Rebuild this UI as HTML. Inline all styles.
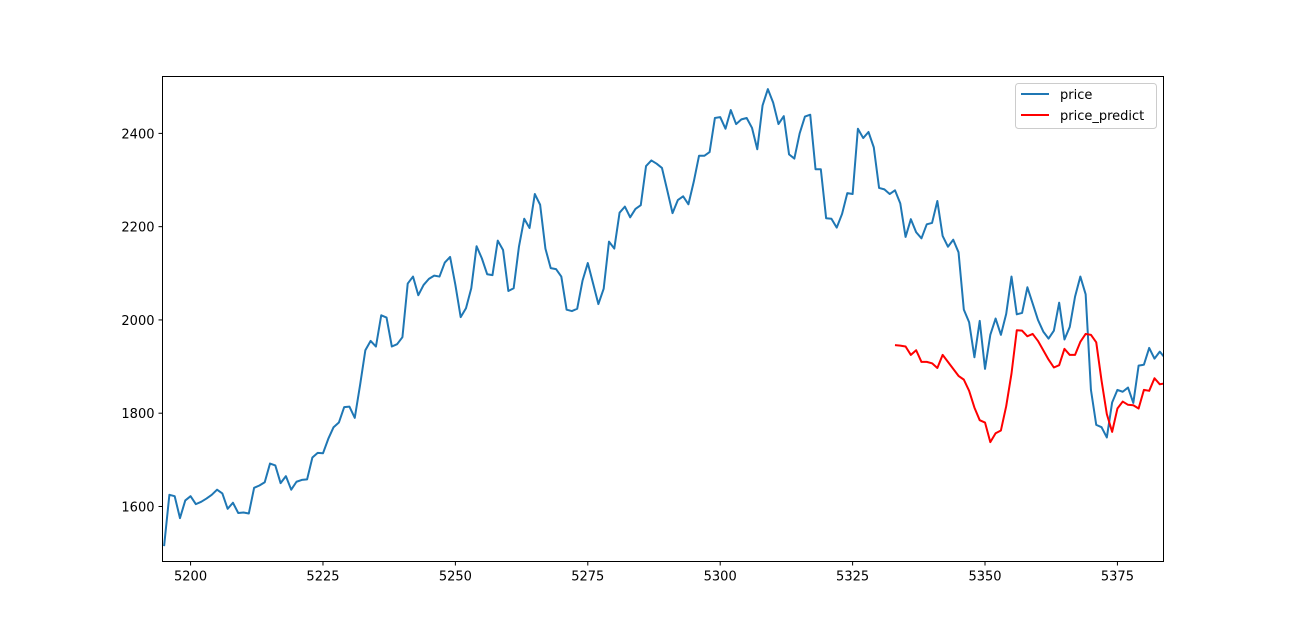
<!DOCTYPE html>
<html><head><meta charset="utf-8"><style>
body{margin:0;background:#fff;}
svg{display:block;font-family:"DejaVu Sans","Liberation Sans",sans-serif;}
</style></head><body>
<svg id="chart" width="1292" height="630" xmlns="http://www.w3.org/2000/svg">
<rect width="1292" height="630" fill="#fff"/>
<g id="axes"></g>
<g id="series"></g>
<rect x="162.5" y="76.5" width="1001" height="485" fill="none" stroke="#000" stroke-width="1"/>
<g>
<rect x="1015.5" y="83.5" width="141" height="45" rx="3" fill="#fff" fill-opacity="0.8" stroke="#ccc"/>
<line x1="1021" y1="94" x2="1049" y2="94" stroke="#1f77b4" stroke-width="2"/>
<text x="1060" y="99" font-size="13">price</text>
<line x1="1021" y1="115" x2="1049" y2="115" stroke="#ff0000" stroke-width="2"/>
<text x="1060" y="120" font-size="13">price_predict</text>
</g>
</svg>
<script>
const xStart = 5195;
const priceValues = [1515,1625,1622,1575,1613,1622,1605,1610,1617,1625,1636,1628,1595,1608,1586,1587,1585,1640,1645,1652,1692,1688,1650,1665,1636,1653,1657,1658,1705,1715,1714,1745,1770,1780,1813,1814,1790,1860,1935,1955,1943,2010,2005,1943,1948,1963,2078,2093,2053,2075,2088,2095,2093,2123,2135,2075,2006,2025,2068,2158,2132,2098,2096,2170,2150,2062,2068,2157,2217,2197,2270,2247,2153,2111,2109,2093,2022,2019,2024,2084,2122,2078,2034,2067,2168,2153,2230,2243,2220,2238,2246,2330,2342,2335,2326,2278,2229,2257,2265,2248,2296,2352,2352,2360,2433,2435,2410,2450,2420,2430,2433,2412,2366,2460,2495,2466,2420,2437,2355,2346,2400,2436,2440,2323,2323,2218,2217,2198,2227,2272,2270,2410,2390,2403,2370,2283,2280,2270,2278,2250,2178,2216,2188,2175,2205,2208,2255,2180,2157,2172,2145,2022,1995,1920,1998,1895,1968,2003,1968,2013,2093,2012,2015,2070,2035,2000,1975,1960,1977,2037,1958,1985,2050,2093,2055,1850,1775,1770,1748,1823,1850,1846,1855,1822,1902,1904,1940,1917,1932,1918];
const predictStart = 5333;
const predictValues = [1946,1945,1943,1925,1935,1910,1910,1907,1897,1925,1910,1895,1880,1872,1848,1812,1785,1780,1738,1757,1763,1815,1885,1978,1977,1965,1970,1955,1935,1915,1898,1903,1938,1925,1925,1953,1970,1968,1952,1870,1798,1760,1810,1825,1818,1817,1810,1850,1848,1875,1862,1864];
const xTicks = [5200,5225,5250,5275,5300,5325,5350,5375];
const yTicks = [1600,1800,2000,2200,2400];

const L=162.5,R=1163.5,T=76.5,B=561.5;
const xMin=5194.7,xMax=5383.7,yMin=1482,yMax=2522;
const sx=v=>L+(v-xMin)/(xMax-xMin)*(R-L);
const sy=v=>B-(v-yMin)/(yMax-yMin)*(B-T);
const NS="http://www.w3.org/2000/svg";
const axes=document.getElementById('axes'), ser=document.getElementById('series');
function mk(tag,attrs,parent){const e=document.createElementNS(NS,tag);for(const k in attrs)e.setAttribute(k,attrs[k]);parent.appendChild(e);return e;}
xTicks.forEach(t=>{
  const x=sx(t);
  const tk=mk('line',{x1:x,y1:B,x2:x,y2:B+4,stroke:'#000'},axes);
  
  
  const lb=mk('text',{x:x,y:B+19,'font-size':13,'text-anchor':'middle'},axes);
  
  
  lb.textContent=t;
});
yTicks.forEach(t=>{
  const y=sy(t);
  const tk=mk('line',{x1:L-4,y1:y,x2:L,y2:y,stroke:'#000'},axes);
  
  
  const lb=mk('text',{x:L-8,y:y+5,'font-size':13,'text-anchor':'end'},axes);
  
  
  lb.textContent=t;
});
const clip=mk('clipPath',{id:'pc'},ser);
mk('rect',{x:L,y:T,width:R-L,height:B-T},clip);
const p1=mk('polyline',{points:priceValues.map((v,i)=>sx(xStart+i)+','+sy(v)).join(' '),fill:'none',stroke:'#1f77b4','stroke-width':2,'clip-path':'url(#pc)','stroke-linejoin':'round'},ser);


const p2=mk('polyline',{points:predictValues.map((v,i)=>sx(predictStart+i)+','+sy(v)).join(' '),fill:'none',stroke:'#ff0000','stroke-width':2,'clip-path':'url(#pc)','stroke-linejoin':'round'},ser);


</script>
</body></html>
